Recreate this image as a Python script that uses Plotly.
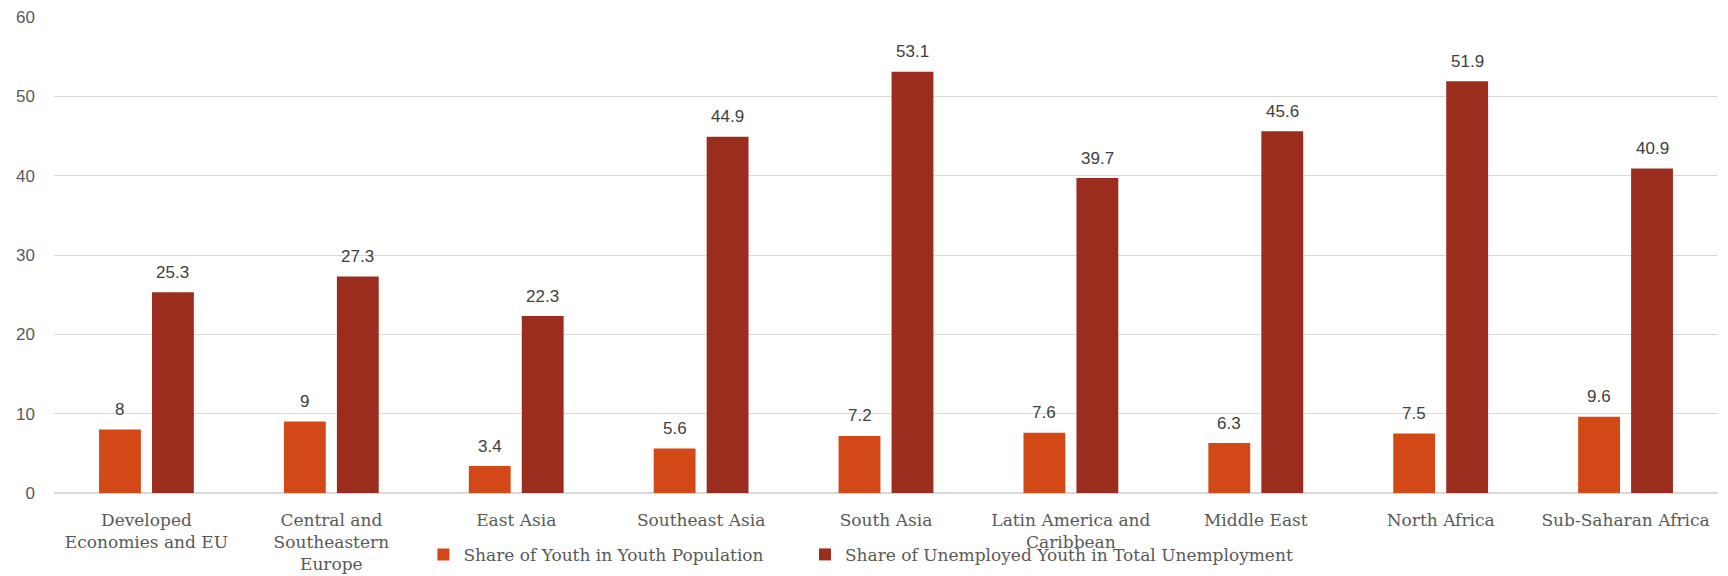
import plotly.graph_objects as go

# Regions and the two youth-labour shares (%)
regions = [
    "Developed<br>Economies and EU",
    "Central and<br>Southeastern<br>Europe",
    "East Asia",
    "Southeast Asia",
    "South Asia",
    "Latin America and<br>Caribbean",
    "Middle East",
    "North Africa",
    "Sub-Saharan Africa",
]
youth_population_share = [8, 9, 3.4, 5.6, 7.2, 7.6, 6.3, 7.5, 9.6]
youth_unemployment_share = [25.3, 27.3, 22.3, 44.9, 53.1, 39.7, 45.6, 51.9, 40.9]
y_ticks = [0, 10, 20, 30, 40, 50, 60]

SLAB = "Rockwell, 'DejaVu Serif', serif"
SANS = "'Liberation Sans', Arial, sans-serif"

# name, values, colour, label offset within the group, legend id, legend x
series = [
    ("Share of Youth in Youth Population", youth_population_share, "#D34817", -26.5, "legend", 0.222),
    ("Share of Unemployed Youth in Total Unemployment", youth_unemployment_share, "#9B2D1F", 26.5, "legend2", 0.4513),
]

fig = go.Figure()
annotations = []
legends = {}
for name, values, color, shift, leg, leg_x in series:
    fig.add_trace(go.Bar(
        x=regions, y=values, name=name, legend=leg,
        marker=dict(color=color, line=dict(width=0)),
        hoverinfo="x+y+name",
    ))
    for region, v in zip(regions, values):
        annotations.append(dict(
            x=region, y=v, xref="x", yref="y", text=f"{v:g}",
            showarrow=False, xshift=shift, yshift=20,
            font=dict(family=SANS, size=17, color="#404040"),
        ))
    legends[leg] = dict(
        orientation="h", x=leg_x, xanchor="left", y=-0.13, yanchor="middle",
        font=dict(family=SLAB, size=17, color="#595959"),
        itemwidth=30, bgcolor="rgba(0,0,0,0)",
    )

fig.update_layout(
    width=1728, height=576,
    margin=dict(l=54, r=10, t=17, b=83, autoexpand=False),
    paper_bgcolor="white", plot_bgcolor="white",
    barmode="group", bargap=0.427, bargroupgap=0.21,
    annotations=annotations,
    showlegend=True,
    **legends,
)
fig.update_xaxes(
    showgrid=False, showline=False, ticks="", automargin=False,
    ticklabelstandoff=15,
    tickfont=dict(family=SLAB, size=17, color="#595959"),
)
fig.update_yaxes(
    range=[0, 60], tickvals=y_ticks, showgrid=True, gridcolor="#D9D9D9", gridwidth=1.3,
    zeroline=True, zerolinecolor="#D9D9D9", zerolinewidth=2,
    showline=False, ticks="", ticklabelstandoff=18, automargin=False,
    tickfont=dict(family=SANS, size=17, color="#595959"),
)

fig.write_html("out.html")
